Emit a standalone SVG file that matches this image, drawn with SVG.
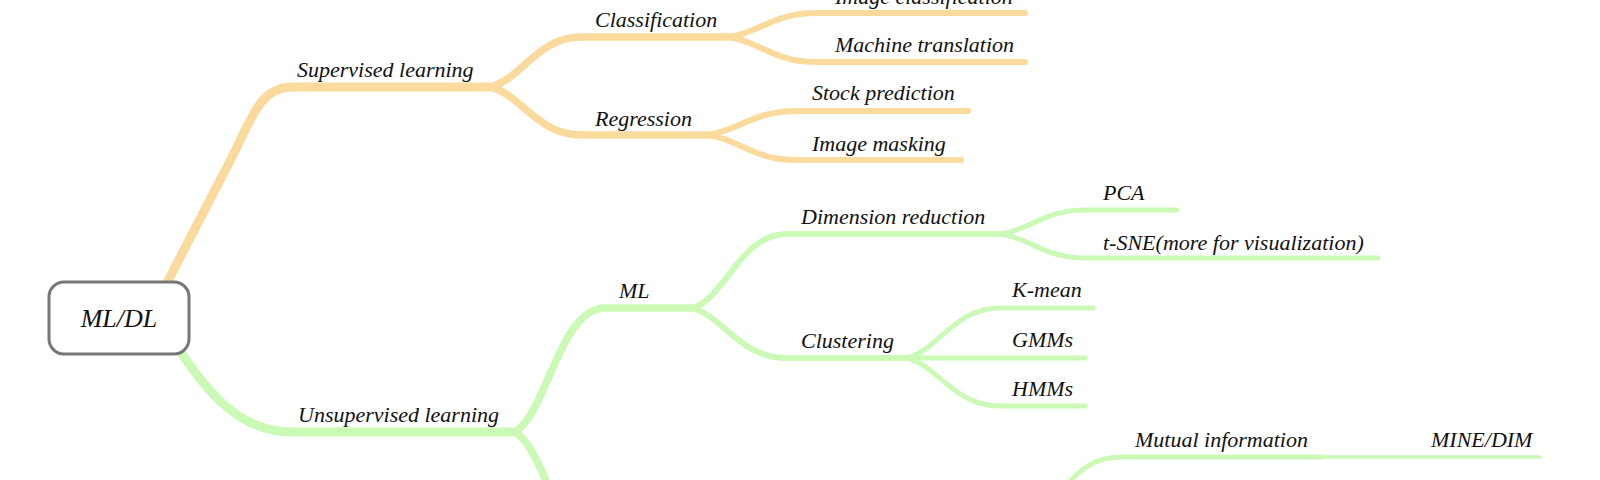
<svg xmlns="http://www.w3.org/2000/svg" width="1600" height="480" viewBox="0 0 1600 480">
<style>
  .c { fill: none; stroke-linecap: round; stroke-linejoin: round; }
  .o { stroke: #FBDA9E; }
  .g { stroke: #CBF9B6; }
  .l1 { stroke-width: 9; }
  .l2 { stroke-width: 7.5; }
  .l3 { stroke-width: 6; }
  .l4 { stroke-width: 5; }
  .l5 { stroke-width: 3.5; }
  .t { font-family: "Liberation Serif", "DejaVu Serif", serif; font-style: italic; font-size: 22px; fill: #111; }
  .root-box { fill: #fff; stroke: #777; stroke-width: 3; }
  .root-t { font-family: "Liberation Serif", "DejaVu Serif", serif; font-style: italic; font-size: 26px; fill: #111; text-anchor: middle; }
</style>
<rect width="1600" height="480" fill="#fff"/>
<g id="connectors">
  <path class="c o l1" d="M156 304 L232 157 C252 118 260 87 292 87 L490 87"/>
  <path class="c o l2" d="M490 87 C522 79.5 536 37 582 37 L728 37"/>
  <path class="c o l2" d="M490 87 C522 94.5 536 135 582 135 L707 135"/>
  <path class="c o l3" d="M728 37 C759 33.4 772 13 817 13 L1025 13"/>
  <path class="c o l3" d="M728 37 C759 40.6 772 62 817 62 L1025 62"/>
  <path class="c o l3" d="M707 135 C738.5 131.4 752 111 797 111 L968 111"/>
  <path class="c o l3" d="M707 135 C738.5 138.6 752 160 797 160 L961 160"/>

  <path class="c g l1" d="M160 322 C200 380 230 432 292 432 L515 432"/>
  <path class="c g l2" d="M515 432 C546.5 413.4 560 308 605 308 L693 308"/>
  <path class="c g l2" d="M515 432 C546.5 450.6 560 556 605 556 L700 556"/>
  <path class="c g l3" d="M693 308 C726 297 740 234 787 234 L1000 234"/>
  <path class="c g l3" d="M693 308 C726 319 740 358 787 358 L906 358"/>
  <path class="c g l4" d="M1000 234 C1030 230.4 1043 210 1086 210 L1177 210"/>
  <path class="c g l4" d="M1000 234 C1030 237.6 1043 258 1086 258 L1378 258"/>
  <path class="c g l4" d="M906 358 C939 350.5 953 308 1000 308 L1093 308"/>
  <path class="c g l4" d="M906 358 L1085 358"/>
  <path class="c g l4" d="M906 358 C939 365.5 953 406 1000 406 L1085 406"/>
  <path class="c g l4" d="M1040 520 C1075 470 1090 457 1124 457 L1322 457"/>
  <path class="c g l5" d="M1322 457 L1540 457"/>
</g>
<g id="node-root">
  <rect class="root-box" x="49" y="282" width="140" height="72" rx="15"/>
  <text class="root-t" x="119" y="327">ML/DL</text>
</g>
<g id="node-supervised"><text class="t" x="297" y="77">Supervised learning</text></g>
<g id="node-classification"><text class="t" x="595" y="27">Classification</text></g>
<g id="node-regression"><text class="t" x="595" y="126">Regression</text></g>
<g id="node-image-classification"><text class="t" x="835" y="4">Image classification</text></g>
<g id="node-machine-translation"><text class="t" x="835" y="52">Machine translation</text></g>
<g id="node-stock-prediction"><text class="t" x="812" y="100">Stock prediction</text></g>
<g id="node-image-masking"><text class="t" x="812" y="150.5">Image masking</text></g>
<g id="node-unsupervised"><text class="t" x="298" y="422">Unsupervised learning</text></g>
<g id="node-ml"><text class="t" x="619" y="298">ML</text></g>
<g id="node-dimension-reduction"><text class="t" x="801" y="224">Dimension reduction</text></g>
<g id="node-clustering"><text class="t" x="801" y="348">Clustering</text></g>
<g id="node-pca"><text class="t" x="1103" y="200">PCA</text></g>
<g id="node-tsne"><text class="t" x="1103" y="250">t-SNE(more for visualization)</text></g>
<g id="node-kmean"><text class="t" x="1012" y="297">K-mean</text></g>
<g id="node-gmms"><text class="t" x="1012" y="347">GMMs</text></g>
<g id="node-hmms"><text class="t" x="1012" y="396">HMMs</text></g>
<g id="node-mutual-information"><text class="t" x="1135" y="447">Mutual information</text></g>
<g id="node-mine-dim"><text class="t" x="1431" y="447">MINE/DIM</text></g>
</svg>
